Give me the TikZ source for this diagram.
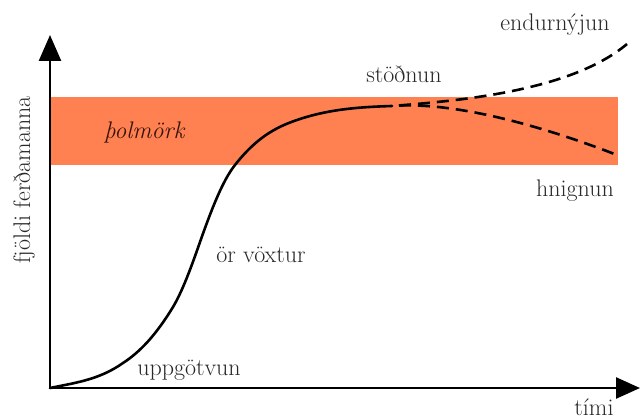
\documentclass[tikz,border=0pt]{standalone}
\usepackage{fontspec}
\usepackage{tikz}
\usepackage{xcolor}
\usetikzlibrary{arrows.meta}
\definecolor{bandorange}{RGB}{255,129,82}
\definecolor{labelgray}{RGB}{40,40,40}
\definecolor{limitbrown}{RGB}{55,20,10}

\begin{document}
\begin{tikzpicture}[x=1pt,y=-1pt,font=\fontsize{24}{28}\selectfont]
  \tikzstyle{axis}=[line width=2.6pt,{Triangle[length=26pt,width=22pt]}-{Triangle[length=24pt,width=21pt]}]
  \tikzstyle{growth}=[line width=2.6pt,line cap=round]
  \tikzstyle{future}=[line width=2.6pt,dash pattern=on 12pt off 7pt,dash phase=12pt]
  \tikzstyle{lbl}=[text=labelgray,inner sep=0pt,anchor=base]
  \useasboundingbox (0,0) rectangle (640,420);
  % capacity band
  \fill[bandorange] (50,97) rectangle (618,165);
  \node[lbl,text=limitbrown,font=\fontsize{24}{28}\selectfont\itshape] (limit) at (144,138) {þolmörk};
  % axes
  \coordinate (o) at (50,388);
  \coordinate (ytop) at (50,35);
  \coordinate (xend) at (640,388);
  \draw[axis] (ytop) -- (o) -- (xend);
  % life cycle curve
  \coordinate (split) at (392,106);
  \coordinate (renew) at (627,44);
  \coordinate (decline) at (617,155);
  \draw[growth] (o) .. controls (74,383) and (99,380) .. (123,363)
    .. controls (140,352) and (156,335) .. (173,307)
    .. controls (182,292) and (191,268) .. (200,242)
    .. controls (212,208) and (223,180) .. (235,165)
    .. controls (256,138) and (276,127) .. (297,120)
    .. controls (329,109) and (360,107) .. (split);
  \draw[future] (split) .. controls (455,101) and (570,92) .. (renew);
  \draw[future] (split) .. controls (455,101) and (545,127) .. (decline);
  % stage labels
  \node[lbl] (discovery) at (189,375) {uppgötvun};
  \node[lbl] (growthlbl) at (261,262) {ör vöxtur};
  \node[lbl] (stagnation) at (404,83) {stöðnun};
  \node[lbl] (rejuvenation) at (555,31) {endurnýjun};
  \node[lbl] (declinelbl) at (575,196) {hnignun};
  \node[lbl] (time) at (594,415) {tími};
  \node[lbl,rotate=90] (tourists) at (30,180) {fjöldi ferðamanna};
\end{tikzpicture}
\end{document}
